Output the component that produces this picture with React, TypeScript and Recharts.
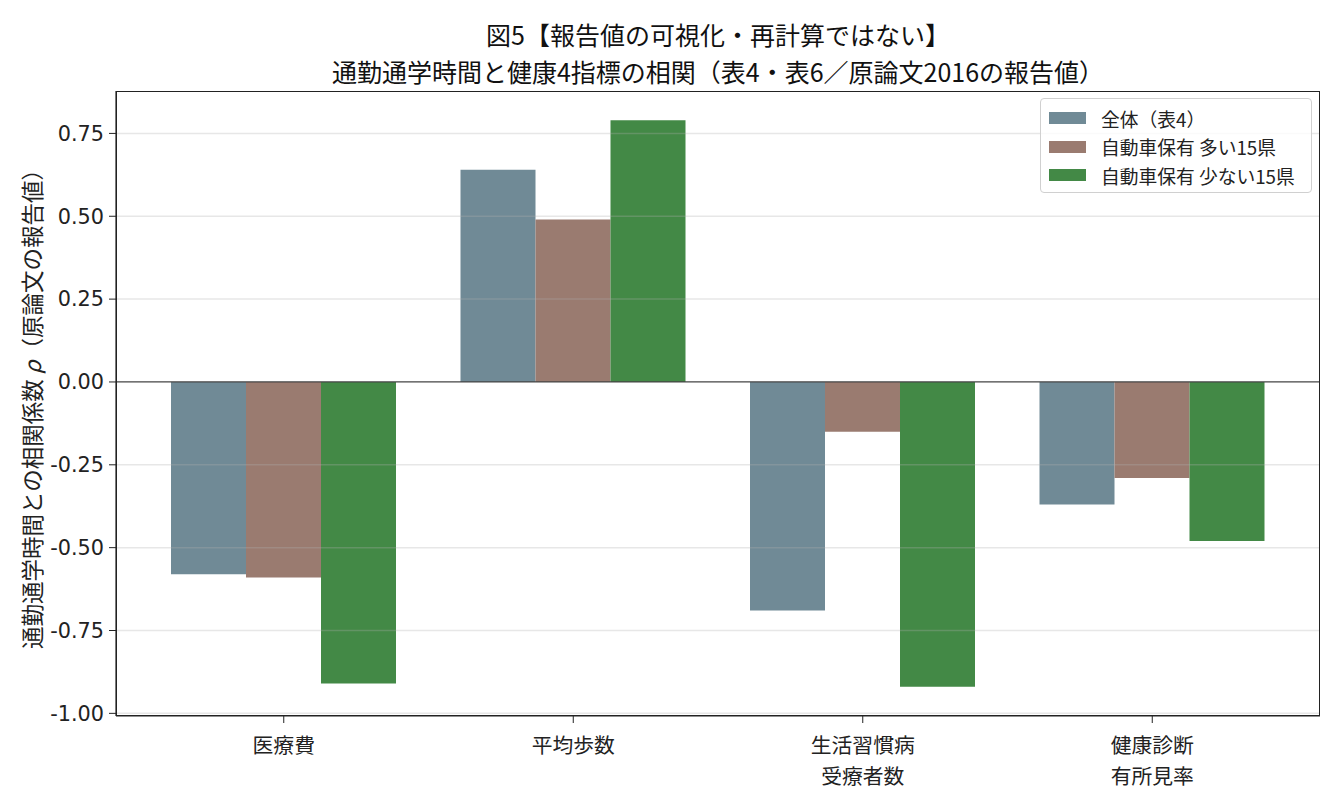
import React from 'react';
import { BarChart, Bar, XAxis, YAxis, ReferenceLine, Label } from 'recharts';

const categories = ['医療費', '平均歩数', '生活習慣病\n受療者数', '健康診断\n有所見率'];
const overall = [-0.58, 0.64, -0.69, -0.37];
const manyCars = [-0.59, 0.49, -0.15, -0.29];
const fewCars = [-0.91, 0.79, -0.92, -0.48];
const yTicks = [-1.0, -0.75, -0.5, -0.25, 0, 0.25, 0.5, 0.75];

const seriesNames = ['全体（表4）', '自動車保有 多い15県', '自動車保有 少ない15県'];
const colors = ['#708a96', '#9a7b70', '#438946'];

const data = categories.map((c, i) => ({
  name: c,
  overall: overall[i],
  many: manyCars[i],
  few: fewCars[i],
}));

const FONT = '"Noto Sans CJK JP", "Noto Sans", sans-serif';
const NUM_FONT = '"DejaVu Sans", "Noto Sans", sans-serif';

const XTick = (props: any) => {
  const { x, y, payload } = props;
  const lines = String(payload.value).split('\n');
  return (
    <text x={x} y={y} textAnchor="middle" fontSize={20.8} fill="#222" fontFamily={FONT}>
      {lines.map((l, i) => (
        <tspan key={i} x={x} dy={i === 0 ? 28 : 31}>
          {l}
        </tspan>
      ))}
    </text>
  );
};

const YLabel = (props: any) => {
  const vb = props.viewBox || {};
  const cx = 31;
  const cy = vb.y + vb.height / 2;
  return (
    <text
      x={cx}
      y={cy}
      transform={`rotate(-90 ${cx} ${cy})`}
      textAnchor="middle"
      dominantBaseline="central"
      fontSize={22.5}
      fill="#222"
      fontFamily={FONT}
    >
      通勤通学時間との相関係数 <tspan fontStyle="italic">ρ</tspan>（原論文の報告値）
    </text>
  );
};

const LegendBox = () => (
  <div
    style={{
      position: 'absolute',
      left: 1040,
      top: 98,
      width: 272,
      height: 95,
      boxSizing: 'border-box',
      border: '1px solid #d0d0d0',
      borderRadius: 4,
      background: 'rgba(255,255,255,0.8)',
      padding: '5px 0 0 8px',
      fontFamily: FONT,
      fontSize: 18.75,
      color: '#222',
    }}
  >
    {seriesNames.map((n, i) => (
      <div key={n} style={{ display: 'flex', alignItems: 'center', height: 28.5 }}>
        <span style={{ width: 37, height: 12, background: colors[i], marginRight: 15 }} />
        <span>{n}</span>
      </div>
    ))}
  </div>
);

export default function App() {
  return (
    <div style={{ position: 'absolute', left: 0, top: 0, width: 1335, height: 809, background: '#fff' }}>
      <div
        style={{
          position: 'absolute',
          left: 116,
          width: 1204,
          top: 16,
          textAlign: 'center',
          fontFamily: FONT,
          fontSize: 25,
          lineHeight: '37px',
          color: '#111',
        }}
      >
        <div>図5【報告値の可視化・再計算ではない】</div>
        <div>通勤通学時間と健康4指標の相関（表4・表6／原論文2016の報告値）</div>
      </div>
      <BarChart
        width={1335}
        height={809}
        data={data}
        margin={{ top: 91, right: 15, bottom: 63, left: 16 }}
        barGap={0}
        barSize={75}
      >
        <XAxis
          dataKey="name"
          padding={{ left: 23, right: 23 }}
          tick={<XTick />}
          tickLine={{ stroke: '#222' }}
          tickSize={7}
          axisLine={{ stroke: '#222', strokeWidth: 1.2 }}
          height={30}
          interval={0}
        />
        <YAxis
          domain={[-1.008, 0.878]}
          ticks={yTicks}
          type="number"
          allowDataOverflow
          width={100}
          tickFormatter={(v: number) => v.toFixed(2)}
          tick={{ fontSize: 20.8, fill: '#222', fontFamily: NUM_FONT }}
          tickLine={{ stroke: '#222' }}
          tickSize={7}
          tickMargin={5}
          axisLine={{ stroke: '#222', strokeWidth: 1.2 }}
        >
          <Label content={<YLabel />} />
        </YAxis>
        <Bar dataKey="overall" name={seriesNames[0]} fill={colors[0]} isAnimationActive={false} />
        <Bar dataKey="many" name={seriesNames[1]} fill={colors[1]} isAnimationActive={false} />
        <Bar dataKey="few" name={seriesNames[2]} fill={colors[2]} isAnimationActive={false} />
        {yTicks
          .filter((t) => t !== 0)
          .map((t) => (
            <ReferenceLine key={t} y={t} stroke="#b0b0b0" strokeOpacity={0.3} strokeWidth={1.5} />
          ))}
        <ReferenceLine y={0} stroke="#444" strokeWidth={1.2} />
      </BarChart>
      <div
        style={{
          position: 'absolute',
          left: 116,
          top: 91,
          width: 1204,
          height: 625,
          boxSizing: 'border-box',
          border: '1.2px solid #222',
          pointerEvents: 'none',
        }}
      />
      <LegendBox />
    </div>
  );
}
